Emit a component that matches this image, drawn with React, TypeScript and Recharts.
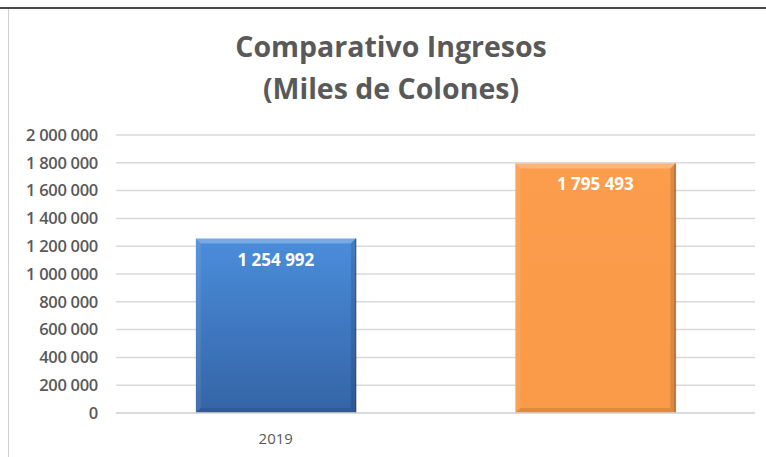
import { Bar, BarChart, CartesianGrid, Cell, LabelList, XAxis, YAxis } from 'recharts';

// Comparativo de ingresos, miles de colones
const categories = ['2019', ''];
const ingresos = [1254992, 1795493];
const yTicks = [0, 200000, 400000, 600000, 800000, 1000000, 1200000, 1400000, 1600000, 1800000, 2000000];

const BAR_FILLS = ['url(#gradBlue)', 'url(#gradOrange)'];

const data = categories.map((year, i) => ({ year, value: ingresos[i] }));

const fmt = (v: number) => String(v).replace(/\B(?=(\d{3})+(?!\d))/g, ' ');

// bar with a soft bevel, like the office chart style
function BevelBar(props: any) {
  const { x, y, width: w, height: h, fill } = props;
  if (!w || !h) return null;
  const b = 5;
  return (
    <g>
      <rect x={x} y={y} width={w} height={h} fill={fill} />
      <polygon
        points={`${x},${y} ${x + w},${y} ${x + w - b},${y + b} ${x + b},${y + b}`}
        fill="#ffffff"
        fillOpacity={0.25}
      />
      <polygon
        points={`${x},${y} ${x + b},${y + b} ${x + b},${y + h - b} ${x},${y + h}`}
        fill="#ffffff"
        fillOpacity={0.08}
      />
      <polygon
        points={`${x + w},${y} ${x + w},${y + h} ${x + w - b},${y + h - b} ${x + w - b},${y + b}`}
        fill="#000000"
        fillOpacity={0.12}
      />
      <polygon
        points={`${x},${y + h} ${x + w},${y + h} ${x + w - b},${y + h - b} ${x + b},${y + h - b}`}
        fill="#000000"
        fillOpacity={0.1}
      />
      <line x1={x + w} y1={y} x2={x + w} y2={y + h} stroke="#000" strokeOpacity={0.35} strokeWidth={1.5} />
    </g>
  );
}

export default function App() {
  return (
    <div
      style={{
        position: 'absolute',
        left: 0,
        top: 0,
        width: 766,
        height: 457,
        background: '#fff',
        fontFamily: '"Open Sans", sans-serif',
        overflow: 'hidden',
      }}
    >
      {/* frame lines */}
      <div style={{ position: 'absolute', left: 0, top: 7, width: 766, height: 2, background: '#4a4a4a' }} />
      <div style={{ position: 'absolute', left: 8, top: 9, width: 1, height: 448, background: '#d0d0d0' }} />

      <div
        style={{
          position: 'absolute',
          left: 0,
          top: 25,
          width: 782,
          textAlign: 'center',
          color: '#595959',
          fontSize: 28.5,
          fontWeight: 700,
          lineHeight: '42px',
        }}
      >
        Comparativo Ingresos
        <br />
        (Miles de Colones)
      </div>

      <div style={{ position: 'absolute', left: 0, top: 0 }}>
        <BarChart
          width={766}
          height={457}
          data={data}
          margin={{ top: 135, right: 11, bottom: 14, left: 0 }}
          barCategoryGap="25%"
        >
          <defs>
            <linearGradient id="gradBlue" x1="0" y1="0" x2="0" y2="1">
              <stop offset="0%" stopColor="#4b8ddb" />
              <stop offset="100%" stopColor="#3464a6" />
            </linearGradient>
            <linearGradient id="gradOrange" x1="0" y1="0" x2="0" y2="1">
              <stop offset="0%" stopColor="#fb9d4c" />
              <stop offset="100%" stopColor="#f99a49" />
            </linearGradient>
          </defs>
          <CartesianGrid vertical={false} stroke="#d9d9d9" strokeWidth={1.5} />
          <XAxis
            dataKey="year"
            axisLine={{ stroke: '#d9d9d9', strokeWidth: 1.5 }}
            tickLine={false}
            tickMargin={14}
            height={30}
            tick={{ fill: '#595959', fontSize: 15, fontFamily: 'Open Sans' }}
          />
          <YAxis
            width={116}
            domain={[0, 2000000]}
            ticks={yTicks}
            interval={0}
            axisLine={false}
            tickLine={false}
            tickMargin={12}
            tickFormatter={fmt}
            tick={{ fill: '#595959', fontSize: 16.5, fontWeight: 600, fontFamily: 'Open Sans', letterSpacing: -0.3 }}
          />
          <Bar dataKey="value" shape={<BevelBar />} isAnimationActive={false}>
            {data.map((d, i) => (
              <Cell key={`c-${i}`} fill={BAR_FILLS[i]} />
            ))}
            <LabelList
              dataKey="value"
              position="insideTop"
              offset={15}
              formatter={(v: any) => fmt(Number(v))}
              fill="#ffffff"
              fontSize={17}
              fontWeight={700}
              fontFamily="Open Sans"
            />
          </Bar>
        </BarChart>
      </div>
    </div>
  );
}
